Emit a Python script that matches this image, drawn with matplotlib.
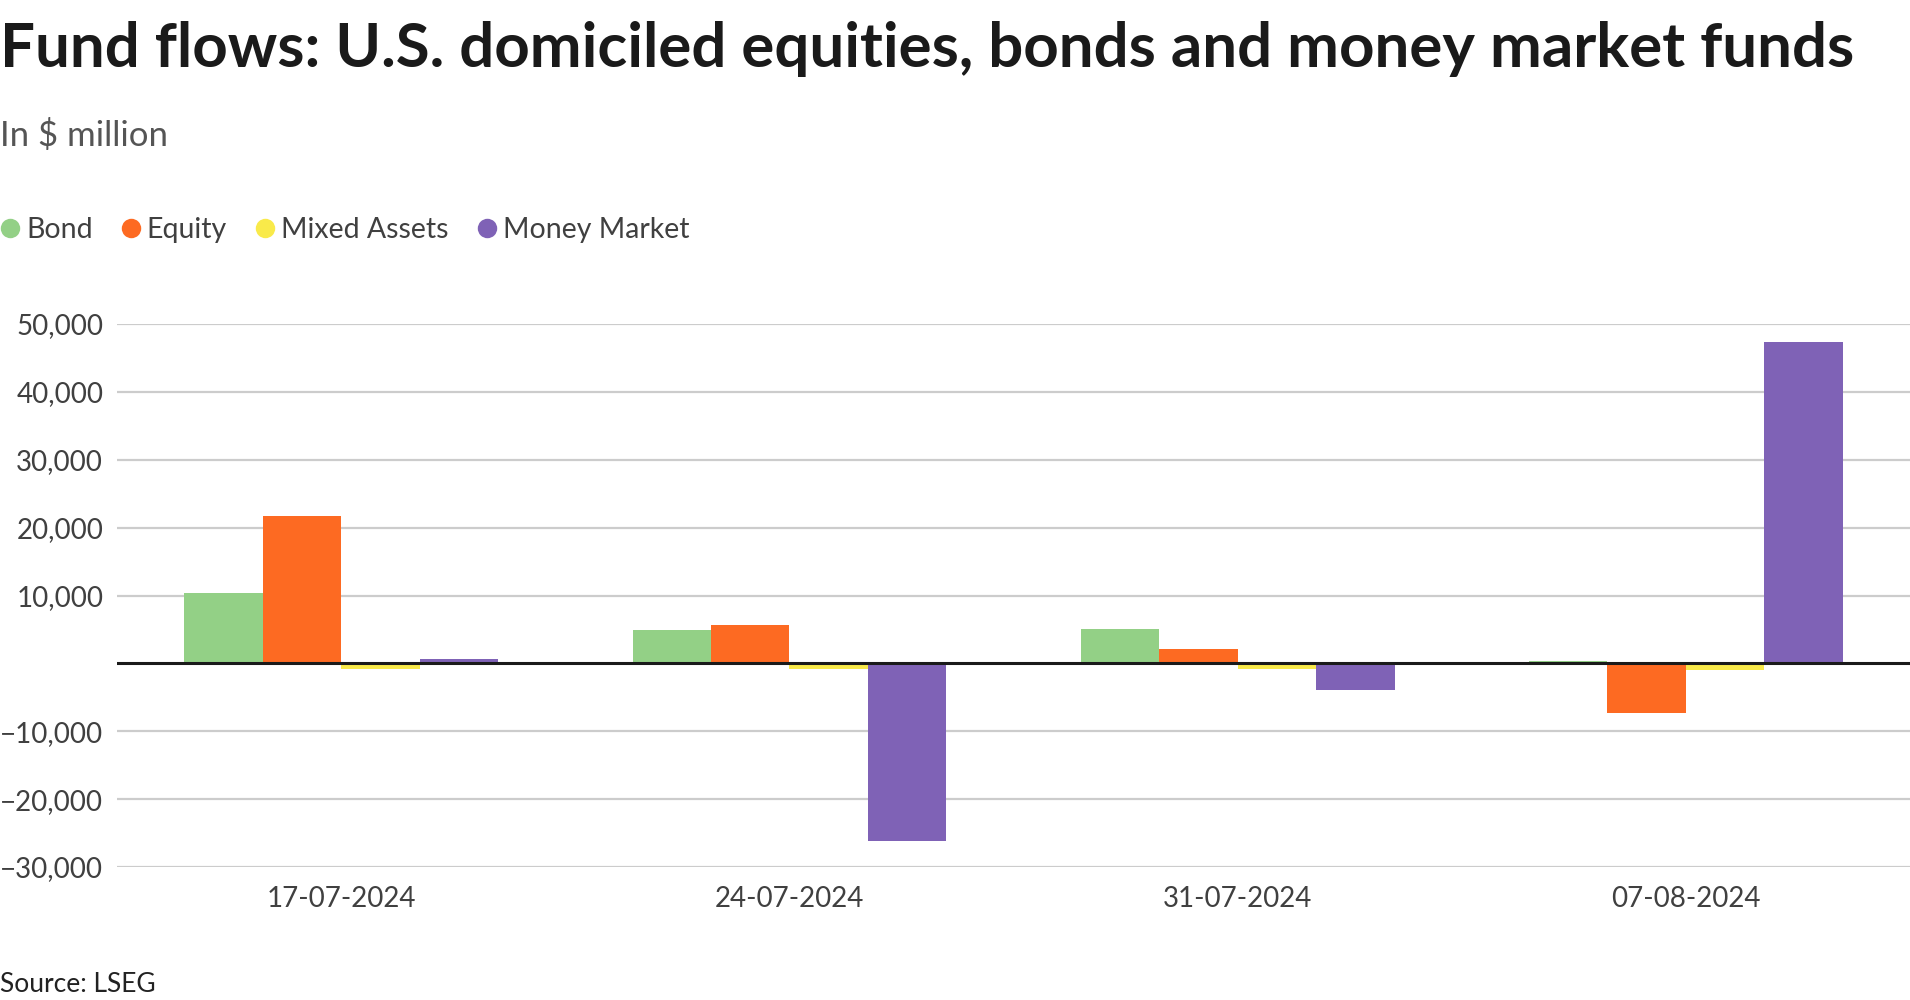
import matplotlib
matplotlib.use("Agg")
import matplotlib.pyplot as plt
from matplotlib.lines import Line2D
from matplotlib.ticker import FuncFormatter, FixedLocator
import numpy as np

dates = ["17-07-2024", "24-07-2024", "31-07-2024", "07-08-2024"]
series_names = ["Bond", "Equity", "Mixed Assets", "Money Market"]
bond = [10390, 4880, 5050, 330]
equity = [21670, 5620, 2100, -7340]
mixed = [-890, -890, -790, -980]
money_market = [690, -26160, -3870, 47340]
colors = ["#93d086", "#fd6a22", "#f9ea4a", "#7f62b6"]
yticks = [-30000, -20000, -10000, 10000, 20000, 30000, 40000, 50000]

plt.rcParams['font.family'] = ['Lato', 'DejaVu Sans']

fig = plt.figure(figsize=(19.1, 10), dpi=100)
ax = fig.add_axes([0.0613, 0.133, 0.9387, 0.543])

values = [bond, equity, mixed, money_market]
x = np.arange(len(dates))
w = 0.175
for i, (vals, c) in enumerate(zip(values, colors)):
    ax.bar(x + (i - 1.5) * w, vals, width=w, color=c, zorder=3, linewidth=0)

ax.set_xlim(-0.5, 3.5)
ax.set_ylim(-30000, 50000)
ax.yaxis.set_major_locator(FixedLocator(yticks))
ax.yaxis.set_major_formatter(FuncFormatter(lambda v, p: f"{int(v):,}".replace("-", "\u2212")))
ax.grid(axis='y', color='#cccccc', linewidth=1.6, zorder=0)
ax.axhline(0, color='#1a1a1a', linewidth=2.2, zorder=4)
for s in ax.spines.values():
    s.set_visible(False)
ax.set_xticks(x)
ax.set_xticklabels(dates)
ax.tick_params(axis='both', length=0, labelsize=20, labelcolor='#404040')
ax.tick_params(axis='x', pad=14)
ax.tick_params(axis='y', pad=10)

fig.text(0.0, 0.951, "Fund flows: U.S. domiciled equities, bonds and money market funds",
         fontsize=44.5, fontweight='bold', color='#1a1a1a', va='center', ha='left')
fig.text(0.0, 0.865, "In $ million", fontsize=25, color='#555555',
         va='center', ha='left')
fig.text(0.0, 0.016, "Source: LSEG", fontsize=19, color='#222222', va='center', ha='left')

handles = [Line2D([0], [0], marker='o', linestyle='', markersize=14,
                  markerfacecolor=c, markeredgewidth=0) for c in colors]
leg = fig.legend(handles, series_names, loc='center left', bbox_to_anchor=(-0.008, 0.77),
                 ncol=4, frameon=False, fontsize=20.5, handletextpad=0.05,
                 columnspacing=0.85, handlelength=1.0, borderaxespad=0)
for t in leg.get_texts():
    t.set_color('#404040')

fig.savefig("out.png", dpi=100, facecolor='white')
